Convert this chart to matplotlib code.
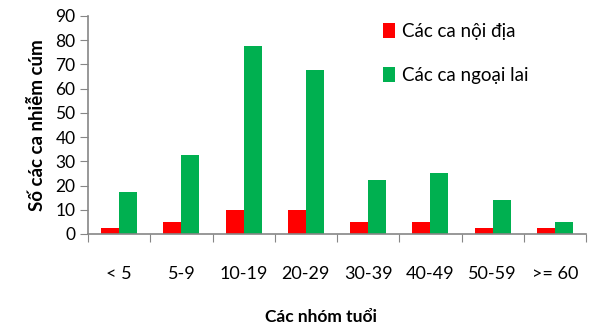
import numpy as np
import matplotlib.pyplot as plt

# age groups and case counts
groups = ["< 5", "5-9", "10-19", "20-29", "30-39", "40-49", "50-59", ">= 60"]
domestic = [2.5, 5, 10, 10, 5, 5, 2.5, 2.5]
imported = [17.5, 32.5, 77.5, 67.5, 22.5, 25, 14, 5]

red = "#ff0000"
green = "#00b050"
axis_grey = "#868686"

W, H = 591, 329
fig = plt.figure(figsize=(W / 100, H / 100), dpi=100)
ax = fig.add_axes([88 / W, 1 - 234 / H, 498 / W, 218 / H])

x = np.arange(len(groups))
w = 0.29
ax.bar(x - w / 2, domestic, w, color=red, label="Các ca nội địa")
ax.bar(x + w / 2, imported, w, color=green, label="Các ca ngoại lai")

ax.set_xlim(-0.5, len(groups) - 0.5)
ax.set_ylim(0, 90)
ax.set_yticks(range(0, 91, 10))
ax.set_yticklabels([str(v) for v in range(0, 91, 10)], family="Lato", fontsize=12.5)
ax.tick_params(axis="y", length=6, color=axis_grey, pad=3)

# ticks sit between groups, labels at group centres
ax.set_xticks(np.arange(len(groups) + 1) - 0.5)
ax.set_xticklabels([])
ax.set_xticks(x, minor=True)
ax.set_xticklabels(groups, minor=True, fontsize=13, family="Lato")
ax.tick_params(axis="x", which="major", length=6, color=axis_grey)
ax.tick_params(axis="x", which="minor", length=0, pad=23)

for s in ["top", "right"]:
    ax.spines[s].set_visible(False)
for s in ["left", "bottom"]:
    ax.spines[s].set_color(axis_grey)
    ax.spines[s].set_linewidth(1.2)

fig.text(38 / W, 1 - 125 / H, "Số các ca nhiễm cúm", rotation=90, ha="center",
         va="center", fontsize=13.5, fontweight="bold", family="Lato")
fig.text(321 / W, 1 - 317 / H, "Các nhóm tuổi", ha="center", va="center",
         fontsize=12.5, fontweight="bold", family="Lato")

ax.legend(loc="upper left", bbox_to_anchor=(0.558, 1.045), frameon=False,
          prop={"family": "Lato", "size": 13.5}, handlelength=0.65,
          handleheight=0.85, handletextpad=0.35, labelspacing=1.45)

fig.savefig("out.png", dpi=100)
